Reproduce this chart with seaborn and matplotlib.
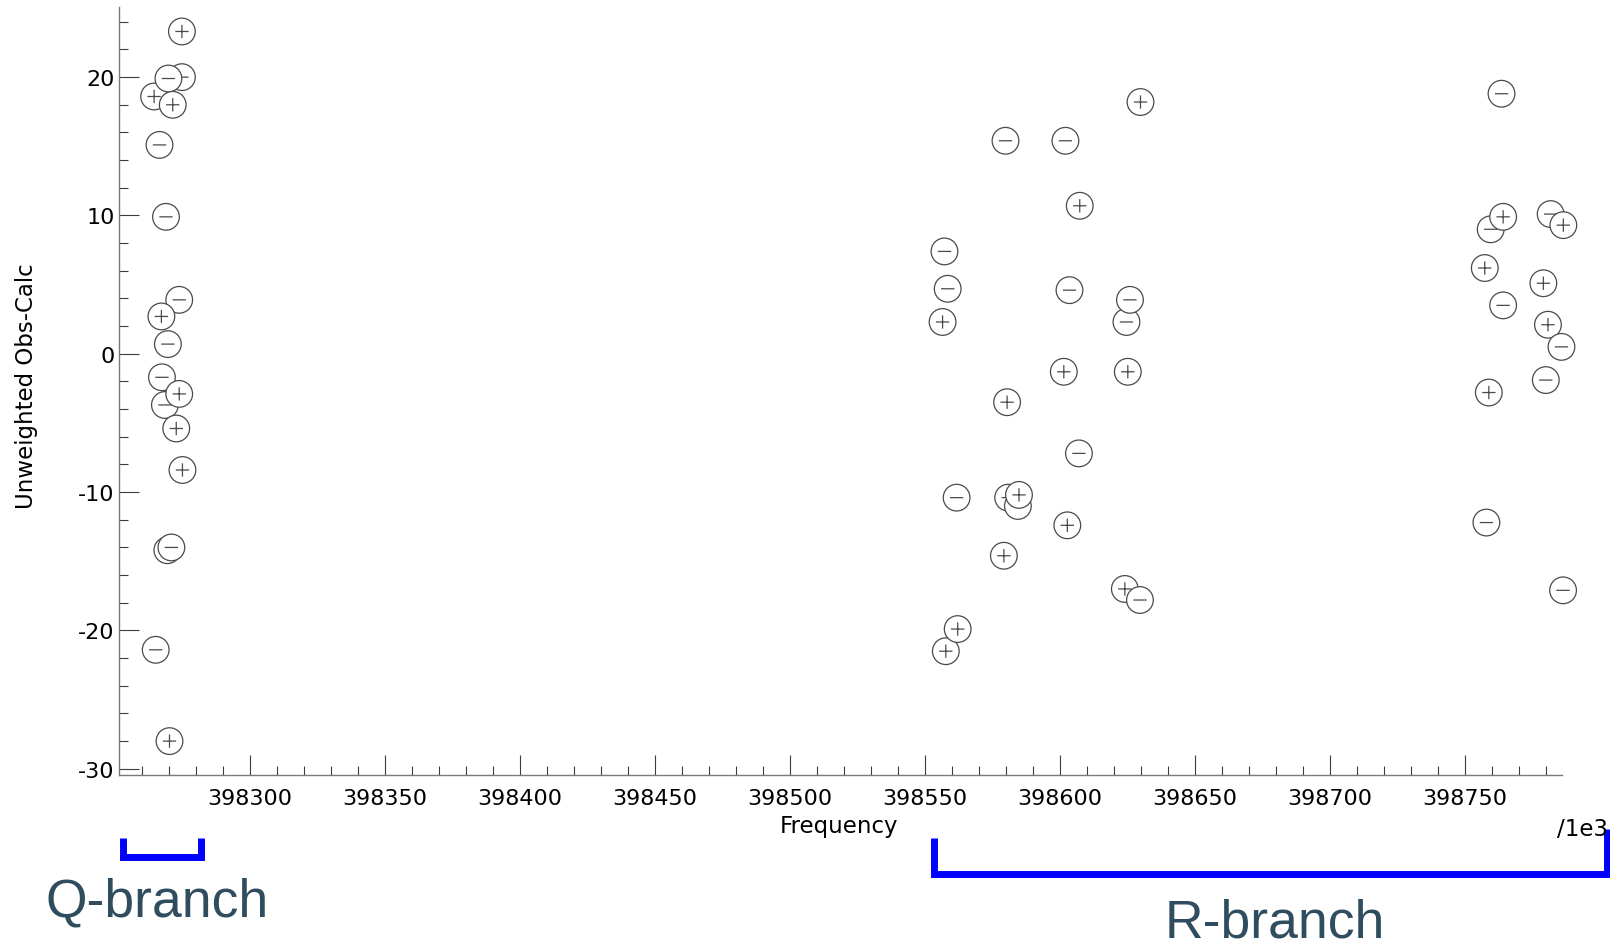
import matplotlib
matplotlib.use("Agg")
import matplotlib.pyplot as plt
import pandas as pd
import seaborn as sns
from matplotlib.path import Path
from matplotlib.markers import MarkerStyle
from matplotlib.lines import Line2D
from matplotlib.ticker import MultipleLocator, FormatStrFormatter

# Q-branch lines: frequency (/1e3), unweighted obs-calc residual, sign of residual marker
q_freq = [398274.9, 398274.9, 398264.6, 398269.9, 398271.5, 398266.6, 398269.0,
          398273.9, 398267.3, 398269.7, 398267.5, 398268.6, 398273.9, 398272.8,
          398275.1, 398269.5, 398271.0, 398265.2, 398270.3]
q_resid = [23.3, 20.0, 18.6, 19.9, 18.0, 15.1, 9.9,
           3.9, 2.7, 0.7, -1.7, -3.7, -2.9, -5.4,
           -8.4, -14.2, -14.0, -21.4, -28.0]
q_sign = ["+", "-", "+", "-", "+", "-", "-",
          "-", "+", "-", "-", "-", "+", "+",
          "+", "-", "-", "-", "+"]

# R-branch lines
r_freq = [398629.9, 398579.9, 398602.1, 398607.4, 398557.3, 398558.5, 398603.6,
          398624.7, 398626.0, 398556.6, 398601.5, 398625.2, 398580.5, 398607.1,
          398561.8, 398580.9, 398584.5, 398584.9, 398602.8, 398579.3, 398624.1,
          398629.7, 398557.8, 398562.2,
          398763.6, 398759.6, 398764.2, 398781.8, 398786.5, 398757.4, 398779.1,
          398764.2, 398780.8, 398785.8, 398780.0, 398758.9, 398758.0, 398786.4]
r_resid = [18.2, 15.4, 15.4, 10.7, 7.4, 4.7, 4.6,
           2.3, 3.9, 2.3, -1.3, -1.3, -3.5, -7.2,
           -10.4, -10.4, -11.0, -10.2, -12.4, -14.6, -17.0,
           -17.8, -21.5, -19.9,
           18.8, 9.0, 9.9, 10.1, 9.3, 6.2, 5.1,
           3.5, 2.1, 0.5, -1.9, -2.8, -12.2, -17.1]
r_sign = ["+", "-", "-", "+", "-", "-", "-",
          "-", "-", "+", "+", "+", "+", "-",
          "-", "-", "-", "+", "+", "+", "+",
          "-", "+", "+",
          "-", "-", "+", "-", "+", "+", "+",
          "-", "+", "-", "-", "+", "-", "-"]

x_ticks = [398300, 398350, 398400, 398450, 398500, 398550, 398600, 398650, 398700, 398750]
y_ticks = [-30, -20, -10, 0, 10, 20]

df = pd.DataFrame({
    "freq": q_freq + r_freq,
    "resid": q_resid + r_resid,
    "sign": q_sign + r_sign,
})

sns.set_theme(style="white")
plt.rcParams["font.family"] = ["DejaVu Sans"]
plt.rcParams["axes.unicode_minus"] = False

W, H = 1610, 945
fig = plt.figure(figsize=(W / 100, H / 100), dpi=100)
fig.patch.set_facecolor("white")

# axes box in pixel coordinates
left, right, top, bottom = 119, 1562, 8, 776
ax = fig.add_axes([left / W, 1 - bottom / H, (right - left) / W, (bottom - top) / H])
ax.set_facecolor("white")

# circle markers with a plus / minus glyph inside
circle = Path.unit_circle()
plus_path = Path.make_compound_path(
    circle,
    Path([(-0.5, 0), (0.5, 0), (0, -0.5), (0, 0.5)],
         [Path.MOVETO, Path.LINETO, Path.MOVETO, Path.LINETO]))
minus_path = Path.make_compound_path(
    circle,
    Path([(-0.5, 0), (0.5, 0)], [Path.MOVETO, Path.LINETO]))

sns.scatterplot(
    data=df, x="freq", y="resid", style="sign",
    markers={"+": MarkerStyle(plus_path), "-": MarkerStyle(minus_path)},
    s=369, color="white", edgecolor="#4a4a4a", linewidth=0.9,
    legend=False, clip_on=False, zorder=3, ax=ax,
)

ax.set_xlim(398251.6, 398786.0)
ax.set_ylim(-30.45, 25.07)
ax.set_xticks(x_ticks)
ax.set_yticks(y_ticks)
ax.xaxis.set_minor_locator(MultipleLocator(10))
ax.yaxis.set_minor_locator(MultipleLocator(2))
ax.xaxis.set_major_formatter(FormatStrFormatter("%d"))
ax.yaxis.set_major_formatter(FormatStrFormatter("%d"))

for side in ("top", "right"):
    ax.spines[side].set_visible(False)
for side in ("left", "bottom"):
    ax.spines[side].set_color("#7a7a7a")
    ax.spines[side].set_linewidth(1.0)

ax.tick_params(which="both", direction="in", color="#3c3c3c", labelcolor="black",
               bottom=True, left=True)
ax.tick_params(which="major", length=14.4, width=0.8, labelsize=16)
ax.tick_params(which="minor", length=6.8, width=0.8)
ax.tick_params(axis="x", which="major", pad=9.5)
ax.tick_params(axis="y", which="major", pad=3)
ax.set_xlabel("")
ax.set_ylabel("")
ax.grid(False)

# axis titles
fig.text(26 / W, 1 - 386 / H, "Unweighted Obs-Calc", rotation=90,
         ha="center", va="center", fontsize=16.5, color="black")
fig.text(839 / W, 1 - 826 / H, "Frequency", ha="center", va="center",
         fontsize=16.5, color="black")
fig.text(1608 / W, 1 - 830 / H, "/1e3", ha="right", va="center",
         fontsize=16.5, color="black")


def bracket(xs, ys):
    fig.add_artist(Line2D([x / W for x in xs], [1 - y / H for y in ys],
                          transform=fig.transFigure, color="#0000ff",
                          linewidth=5.0, solid_capstyle="butt",
                          solid_joinstyle="miter"))


bracket([123.3, 123.3, 201.2, 201.2], [839, 858, 858, 839])
bracket([934.3, 934.3, 1606.5, 1606.5], [839, 875, 875, 830])

branch_font = ["Liberation Sans", "DejaVu Sans"]
fig.text(45 / W, 1 - 917 / H, "Q-branch", ha="left", va="baseline",
         fontsize=38.5, color="#2f4d5e", family=branch_font)
fig.text(1165 / W, 1 - 938 / H, "R-branch", ha="left", va="baseline",
         fontsize=38.5, color="#2f4d5e", family=branch_font)

fig.savefig("out.png", dpi=100, facecolor="white")
